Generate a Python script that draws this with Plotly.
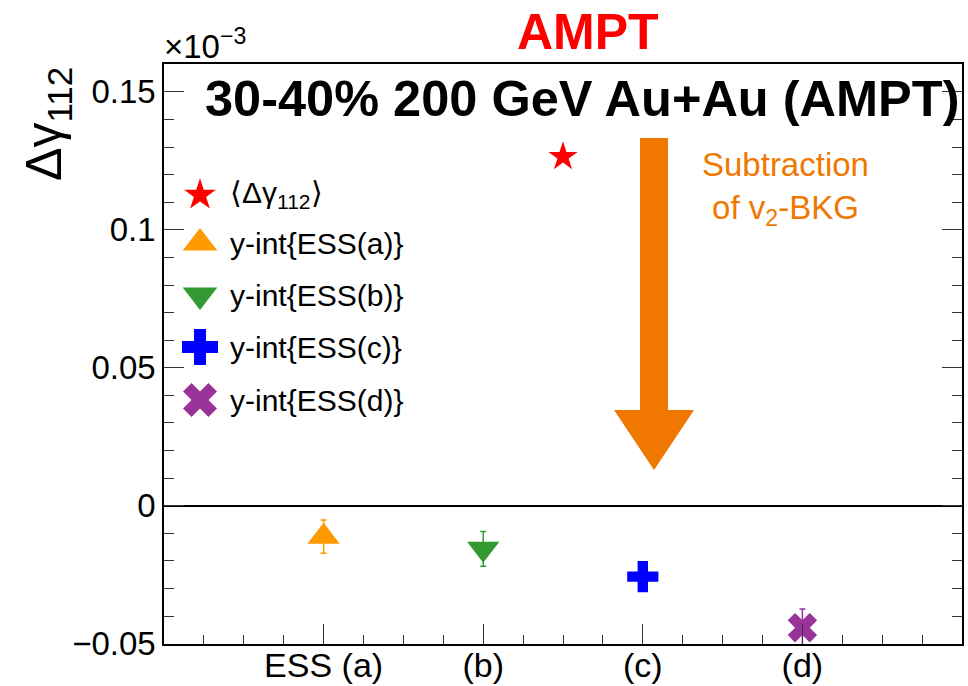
import plotly.graph_objects as go

# ---------------- data ----------------
cat_labels = ["ESS (a)", "(b)", "(c)", "(d)"]
cat_pos = [1, 2, 3, 4]

incl_name = "⟨Δγ<sub>112</sub>⟩"
incl_x = [2.5]
incl_y = [0.1265]
incl_err = [0.0012]

ess_names = ["y-int{ESS(a)}", "y-int{ESS(b)}", "y-int{ESS(c)}", "y-int{ESS(d)}"]
ess_y = [-0.0112, -0.0156, -0.0257, -0.0442]
ess_err = [0.0060, 0.0063, 0.0050, 0.0068]

y_ticks = [-0.05, 0, 0.05, 0.1, 0.15]
y_ticktext = ["−0.05", "0", "0.05", "0.1", "0.15"]

# ---------------- styles ----------------
FONT = "Liberation Sans, Arial, Helvetica, sans-serif"
W, H = 968, 686
L, R, T, B = 164, 962, 64, 644  # plot frame in pixels

ess_colors = ["#FF9900", "#339933", "#0000FF", "#993399"]
ess_symbols = ["triangle-up", "triangle-down", "cross", "x"]
ess_sizes = [28, 28, 26, 26]
ORANGE = "#F07800"


def px_x(p):
    return (p - L) / (R - L)


def px_y(p):
    return (B - p) / (B - T)


fig = go.Figure()

# inclusive point
fig.add_trace(go.Scatter(
    x=incl_x, y=incl_y, mode="markers",
    marker=dict(symbol="star", size=22, color="#FF0000", line=dict(width=0)),
    error_y=dict(type="data", array=incl_err, color="#FF0000", thickness=1.5, width=3),
    showlegend=False))

# ESS points
for i in range(len(ess_y)):
    fig.add_trace(go.Scatter(
        x=[cat_pos[i]], y=[ess_y[i]], mode="markers",
        marker=dict(symbol=ess_symbols[i], size=ess_sizes[i], color=ess_colors[i], line=dict(width=0)),
        error_y=dict(type="data", array=[ess_err[i]], color=ess_colors[i], thickness=1.5, width=3),
        showlegend=False))

# manual legend (markers on an overlay axis in paper-like units)
leg_marker_x = 200
leg_text_x = 228
leg_rows = [195, 243, 295, 347, 400]
leg_symbols = ["star"] + ess_symbols
leg_colors = ["#FF0000"] + ess_colors
leg_sizes = [24, 30, 30, 30, 30]
leg_names = [incl_name] + ess_names
for k in range(len(leg_rows)):
    fig.add_trace(go.Scatter(
        x=[px_x(leg_marker_x)], y=[px_y(leg_rows[k])], xaxis="x2", yaxis="y2",
        mode="markers",
        marker=dict(symbol=leg_symbols[k], size=leg_sizes[k], color=leg_colors[k], line=dict(width=0)),
        showlegend=False, hoverinfo="skip"))
    fig.add_annotation(
        x=px_x(leg_text_x), y=px_y(leg_rows[k]), xref="paper", yref="paper",
        text=leg_names[k], showarrow=False, xanchor="left", yanchor="middle",
        font=dict(family=FONT, size=30, color="black"))

# big orange arrow (shaft + head)
ax_c, shaft_hw, head_hw = 654, 14, 40
y_top, y_head, y_tip = 138, 410, 470
path = (f"M {px_x(ax_c-shaft_hw)},{px_y(y_top)} L {px_x(ax_c+shaft_hw)},{px_y(y_top)} "
        f"L {px_x(ax_c+shaft_hw)},{px_y(y_head)} L {px_x(ax_c+head_hw)},{px_y(y_head)} "
        f"L {px_x(ax_c)},{px_y(y_tip)} L {px_x(ax_c-head_hw)},{px_y(y_head)} "
        f"L {px_x(ax_c-shaft_hw)},{px_y(y_head)} Z")
fig.add_shape(type="path", path=path, xref="paper", yref="paper",
              fillcolor=ORANGE, line=dict(width=0), layer="below")

# annotations
fig.add_annotation(x=px_x(588), y=px_y(32), xref="paper", yref="paper",
                   text="AMPT", showarrow=False, xanchor="center", yanchor="middle",
                   font=dict(family=FONT, size=50, color="#FF0000", weight="bold"))
fig.add_annotation(x=px_x(203), y=px_y(98), xref="paper", yref="paper",
                   text="30-40% 200 GeV Au+Au (AMPT)", showarrow=False,
                   xanchor="left", yanchor="middle",
                   font=dict(family=FONT, size=50.5, color="black", weight="bold"))
fig.add_annotation(x=px_x(162), y=px_y(44), xref="paper", yref="paper",
                   text="×10<sup>−3</sup>", showarrow=False, xanchor="left", yanchor="middle",
                   font=dict(family=FONT, size=33, color="black"))
fig.add_annotation(x=px_x(47), y=px_y(124), xref="paper", yref="paper",
                   text="Δγ<sub>112</sub>", showarrow=False, textangle=-90,
                   xanchor="center", yanchor="middle",
                   font=dict(family=FONT, size=50, color="black"))
fig.add_annotation(x=px_x(785), y=px_y(188), xref="paper", yref="paper",
                   text="Subtraction<br>of v<sub>2</sub>-BKG", showarrow=False,
                   xanchor="center", yanchor="middle", align="center",
                   font=dict(family=FONT, size=33, color=ORANGE))

fig.update_layout(
    width=W, height=H,
    margin=dict(l=L, r=W - R, t=T, b=H - B, pad=0, autoexpand=False),
    paper_bgcolor="white", plot_bgcolor="white",
    font=dict(family=FONT, color="black"),
    xaxis=dict(range=[0, 5], tickmode="array", tickvals=cat_pos, ticktext=cat_labels,
               automargin=False, ticklabelstandoff=-10,
               ticks="inside", ticklen=20, tickwidth=1.3, tickcolor="#333",
               minor=dict(tickmode="linear", tick0=0, dtick=0.25, ticks="inside",
                          ticklen=9, tickwidth=1.3, tickcolor="#333"),
               showline=True, linecolor="black", linewidth=1.5, mirror=True,
               showgrid=False, zeroline=False,
               tickfont=dict(family=FONT, size=34, color="black")),
    yaxis=dict(range=[-0.0501, 0.1601], tickmode="array", tickvals=y_ticks, ticktext=y_ticktext,
               automargin=False,
               ticks="inside", ticklen=20, tickwidth=1.3, tickcolor="#333",
               minor=dict(tickmode="linear", tick0=0, dtick=0.01, ticks="inside",
                          ticklen=10, tickwidth=1.3, tickcolor="#333"),
               showline=True, linecolor="black", linewidth=1.5, mirror="ticks",
               showgrid=False, zeroline=True, zerolinecolor="black", zerolinewidth=1.5,
               tickfont=dict(family=FONT, size=33, color="black")),
    xaxis2=dict(range=[0, 1], overlaying="x", visible=False, fixedrange=True, automargin=False),
    yaxis2=dict(range=[0, 1], overlaying="y", visible=False, fixedrange=True, automargin=False),
    showlegend=False,
)

fig.write_html("out.html")
